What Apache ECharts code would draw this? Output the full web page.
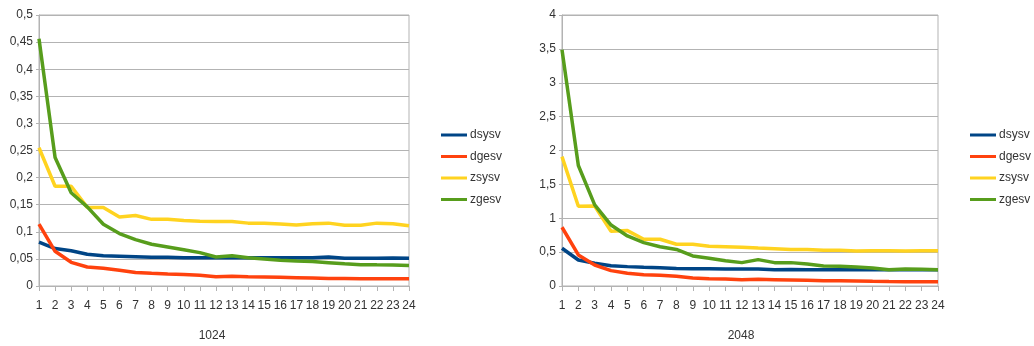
<!DOCTYPE html>
<html>
<head>
<meta charset="utf-8">
<script src="https://cdn.jsdelivr.net/npm/echarts@6/dist/echarts.min.js"></script>
<style>
  html, body { margin: 0; padding: 0; background: #fff; }
  #chart { width: 1034px; height: 346px; }
</style>
</head>
<body>
<div id="chart"></div>
<script>
// Threads 1..24 on the horizontal axis
const categories = Array.from({ length: 24 }, (_, i) => String(i + 1));
const seriesNames = ['dsysv', 'dgesv', 'zsysv', 'zgesv'];
const seriesColors = ['#004586', '#ff420e', '#ffd320', '#579d1c'];

// Matrix size 1024
const dsysv1024 = [0.081, 0.069, 0.065, 0.0585, 0.056, 0.055, 0.054, 0.053, 0.053, 0.052, 0.052, 0.052,
                   0.052, 0.052, 0.052, 0.052, 0.052, 0.052, 0.0535, 0.051, 0.051, 0.051, 0.0515, 0.051];
const dgesv1024 = [0.114, 0.064, 0.0437, 0.035, 0.0326, 0.029, 0.025, 0.0234, 0.022, 0.021, 0.0197, 0.017,
                   0.0178, 0.017, 0.0166, 0.016, 0.0154, 0.0148, 0.014, 0.014, 0.0135, 0.0135, 0.0135, 0.0135];
const zsysv1024 = [0.255, 0.184, 0.184, 0.145, 0.145, 0.1275, 0.13, 0.123, 0.123, 0.121, 0.1195, 0.119,
                   0.119, 0.116, 0.116, 0.1145, 0.1127, 0.115, 0.116, 0.112, 0.112, 0.116, 0.115, 0.111];
const zgesv1024 = [0.456, 0.237, 0.172, 0.146, 0.114, 0.0967, 0.0856, 0.077, 0.072, 0.067, 0.0616, 0.0536,
                   0.056, 0.052, 0.050, 0.0474, 0.046, 0.045, 0.043, 0.041, 0.0394, 0.039, 0.0388, 0.0376];

// Matrix size 2048
const dsysv2048 = [0.557, 0.384, 0.335, 0.30, 0.286, 0.276, 0.27, 0.26, 0.256, 0.256, 0.25, 0.25,
                   0.25, 0.241, 0.245, 0.241, 0.241, 0.241, 0.241, 0.241, 0.241, 0.241, 0.241, 0.241];
const dgesv2048 = [0.867, 0.458, 0.31, 0.227, 0.187, 0.167, 0.158, 0.143, 0.118, 0.108, 0.103, 0.094,
                   0.098, 0.094, 0.089, 0.084, 0.079, 0.079, 0.074, 0.069, 0.066, 0.064, 0.064, 0.064];
const zsysv2048 = [1.91, 1.177, 1.18, 0.808, 0.818, 0.69, 0.69, 0.616, 0.616, 0.586, 0.58, 0.571,
                   0.56, 0.55, 0.54, 0.537, 0.527, 0.527, 0.517, 0.52, 0.52, 0.517, 0.52, 0.52];
const zgesv2048 = [3.488, 1.778, 1.197, 0.90, 0.739, 0.64, 0.58, 0.54, 0.443, 0.41, 0.374, 0.345,
                   0.389, 0.345, 0.345, 0.325, 0.296, 0.29, 0.28, 0.266, 0.241, 0.25, 0.246, 0.241];

// Panel titles
const panelTitles = ['1024', '2048'];

const FONT = '"Liberation Sans", Arial, sans-serif';
const GRID_COLOR = '#b3b3b3';
const TEXT_COLOR = '#333';

function decimalComma(v) {
  return String(v).replace('.', ',');
}

function xAxisFor(gridIndex) {
  return {
    type: 'category',
    gridIndex,
    data: categories,
    boundaryGap: false,
    axisLine: { lineStyle: { color: GRID_COLOR } },
    axisTick: { show: true, length: 5, inside: false, alignWithLabel: true, lineStyle: { color: GRID_COLOR } },
    axisLabel: { color: TEXT_COLOR, fontFamily: FONT, fontSize: 12, margin: 14, interval: 0 },
    splitLine: { show: false }
  };
}

function yAxisFor(gridIndex, max, interval) {
  return {
    type: 'value',
    gridIndex,
    min: 0,
    max,
    interval,
    axisLine: { show: true, lineStyle: { color: GRID_COLOR } },
    axisTick: { show: true, length: 3, lineStyle: { color: GRID_COLOR } },
    axisLabel: { color: TEXT_COLOR, fontFamily: FONT, fontSize: 12, margin: 6, formatter: decimalComma },
    splitLine: { show: true, lineStyle: { color: GRID_COLOR, width: 1 } }
  };
}

function lineSeries(name, data, idx) {
  return {
    name,
    type: 'line',
    xAxisIndex: idx,
    yAxisIndex: idx,
    data,
    symbol: 'none',
    smooth: false,
    lineStyle: { width: 3.5 },
    emphasis: { disabled: true }
  };
}

function legendFor(left) {
  return {
    orient: 'vertical',
    left,
    top: 129,
    padding: 0,
    icon: 'rect',
    itemWidth: 26,
    itemHeight: 3,
    itemGap: 9.5,
    data: seriesNames,
    textStyle: { color: TEXT_COLOR, fontFamily: FONT, fontSize: 12, padding: [0, 0, 0, -2] }
  };
}

const chart = echarts.init(document.getElementById('chart'), null, { renderer: 'canvas' });

chart.setOption({
  animation: false,
  color: seriesColors,
  grid: [
    { left: 39, right: 625, top: 15, bottom: 60, show: true, borderColor: GRID_COLOR, borderWidth: 1, containLabel: false },
    { left: 562, right: 96, top: 15, bottom: 60, show: true, borderColor: GRID_COLOR, borderWidth: 1, containLabel: false }
  ],
  xAxis: [xAxisFor(0), xAxisFor(1)],
  yAxis: [yAxisFor(0, 0.5, 0.05), yAxisFor(1, 4, 0.5)],
  legend: [legendFor(441), legendFor(970)],
  title: [
    { text: panelTitles[0], left: 212, top: 330, padding: 0, textAlign: 'center',
      textStyle: { color: TEXT_COLOR, fontFamily: FONT, fontSize: 12, fontWeight: 'normal' } },
    { text: panelTitles[1], left: 741, top: 330, padding: 0, textAlign: 'center',
      textStyle: { color: TEXT_COLOR, fontFamily: FONT, fontSize: 12, fontWeight: 'normal' } }
  ],
  series: [
    lineSeries('dsysv', dsysv1024, 0),
    lineSeries('dgesv', dgesv1024, 0),
    lineSeries('zsysv', zsysv1024, 0),
    lineSeries('zgesv', zgesv1024, 0),
    lineSeries('dsysv', dsysv2048, 1),
    lineSeries('dgesv', dgesv2048, 1),
    lineSeries('zsysv', zsysv2048, 1),
    lineSeries('zgesv', zgesv2048, 1)
  ]
});
</script>
</body>
</html>
